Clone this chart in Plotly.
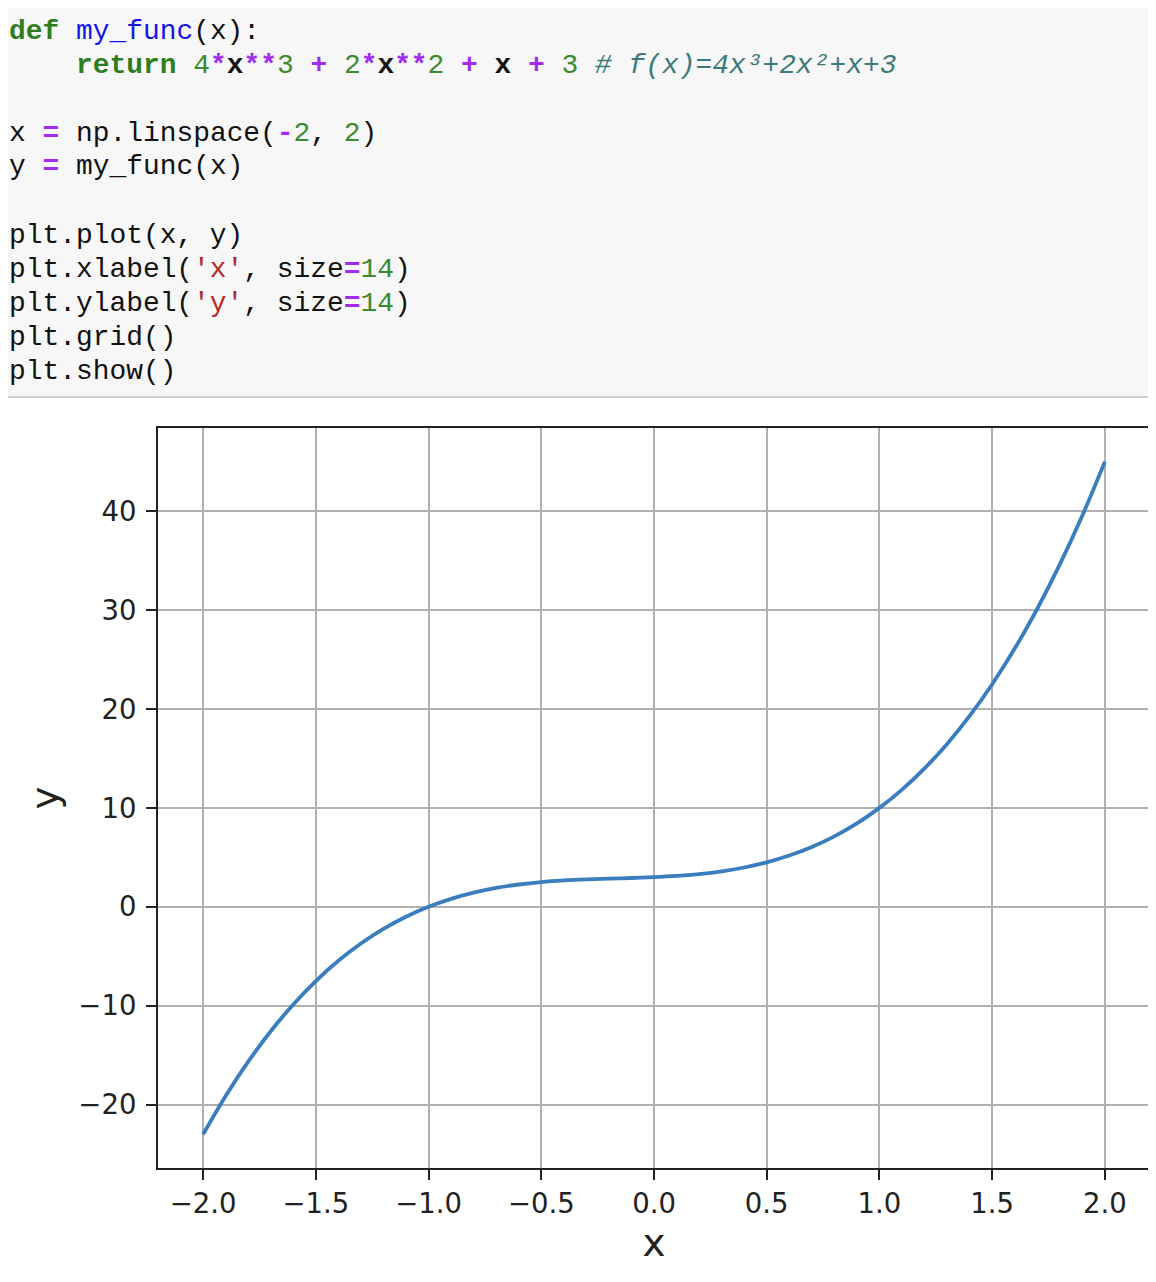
import plotly.graph_objects as go

# ---------------- data ----------------
x_vals = [-2.0, -1.9, -1.8, -1.7, -1.6, -1.5, -1.4, -1.3, -1.2, -1.1, -1.0,
          -0.9, -0.8, -0.7, -0.6, -0.5, -0.4, -0.3, -0.2, -0.1, 0.0,
          0.1, 0.2, 0.3, 0.4, 0.5, 0.6, 0.7, 0.8, 0.9, 1.0,
          1.1, 1.2, 1.3, 1.4, 1.5, 1.6, 1.7, 1.8, 1.9, 2.0]
y_vals = [-23.0, -19.116, -15.648, -12.572, -9.864, -7.5, -5.456, -3.708, -2.232, -1.004, 0.0,
          0.804, 1.432, 1.908, 2.256, 2.5, 2.664, 2.772, 2.848, 2.916, 3.0,
          3.124, 3.312, 3.588, 3.976, 4.5, 5.184, 6.052, 7.128, 8.436, 10.0,
          11.844, 13.992, 16.468, 19.296, 22.5, 26.104, 30.132, 34.608, 39.556, 45.0]

x_tickvals = [-2.0, -1.5, -1.0, -0.5, 0.0, 0.5, 1.0, 1.5, 2.0]
x_ticktext = ["\u22122.0", "\u22121.5", "\u22121.0", "\u22120.5", "0.0", "0.5", "1.0", "1.5", "2.0"]
y_tickvals = [-20, -10, 0, 10, 20, 30, 40]
y_ticktext = ["\u221220", "\u221210", "0", "10", "20", "30", "40"]

# code cell lines: list of (text, style) segments
code_lines = [
    [("def", "kw"), (" ", ""), ("my_func", "fn"), ("(x):", "")],
    [("    ", ""), ("return", "kw"), (" ", ""), ("4", "num"), ("*", "op"), ("x", "b"), ("**", "op"),
     ("3", "num"), (" ", ""), ("+", "op"), (" ", ""), ("2", "num"), ("*", "op"), ("x", "b"),
     ("**", "op"), ("2", "num"), (" ", ""), ("+", "op"), (" ", ""), ("x", "b"), (" ", ""),
     ("+", "op"), (" ", ""), ("3", "num"), (" ", ""), ("# f(x)=4x\u00b3+2x\u00b2+x+3", "cm")],
    [],
    [("x", ""), (" ", ""), ("=", "op"), (" ", ""), ("np.linspace(", ""), ("-", "op"), ("2", "num"),
     (", ", ""), ("2", "num"), (")", "")],
    [("y", ""), (" ", ""), ("=", "op"), (" ", ""), ("my_func(x)", "")],
    [],
    [("plt.plot(x, y)", "")],
    [("plt.xlabel(", ""), ("'x'", "str"), (", size", ""), ("=", "op"), ("14", "num"), (")", "")],
    [("plt.ylabel(", ""), ("'y'", "str"), (", size", ""), ("=", "op"), ("14", "num"), (")", "")],
    [("plt.grid()", "")],
    [("plt.show()", "")],
]

# ---------------- layout geometry (page pixels) ----------------
OFF = 8  # page body margin in which the figure div sits
PAGE_W, PAGE_H = 1156, 1282
W_FIG, H_FIG = PAGE_W - OFF, PAGE_H - OFF
L, R, T, B = 158, 1150, 428, 1168  # plot area in page pixels
PW, PH = R - L, B - T


def px(xp):
    return (xp - L) / PW


def py(yp):
    return (B - yp) / PH


styles = {
    "kw": ("#2f7d1f", True, False),
    "fn": ("#1515e6", False, False),
    "op": ("#a12cf0", True, False),
    "num": ("#3c8a2e", False, False),
    "str": ("#b52a2a", False, False),
    "cm": ("#3d7b7b", False, True),
    "b": ("#111111", True, False),
    "": ("#111111", False, False),
}


def seg_html(text, style):
    color, bold, ital = styles[style]
    t = text.replace(" ", "\u00a0")
    s = f"<span style='color:{color}'>{t}</span>"
    if bold:
        s = f"<b>{s}</b>"
    if ital:
        s = f"<i>{s}</i>"
    return s


fig = go.Figure()
fig.add_trace(go.Scatter(x=x_vals, y=y_vals, mode="lines",
                         line=dict(color="#3a7ebf", width=3.8, shape="spline"),
                         showlegend=False))

shapes = [
    dict(type="rect", xref="paper", yref="paper", x0=px(OFF), x1=px(PAGE_W + 4), y0=py(OFF), y1=py(397),
         fillcolor="#f7f7f7", line=dict(width=0), layer="below"),
    dict(type="line", xref="paper", yref="paper", x0=px(OFF), x1=px(PAGE_W + 4), y0=py(397), y1=py(397),
         line=dict(color="#cfcfcf", width=2)),
]

annotations = []
baseline0 = 37.5
line_gap = 34.0
for i, segs in enumerate(code_lines):
    if not segs:
        continue
    base = baseline0 + i * line_gap
    text = "".join(seg_html(t, s) for t, s in segs)
    annotations.append(dict(
        x=px(7), y=py(base - 6.5), xref="paper", yref="paper",
        xanchor="left", yanchor="middle", showarrow=False, text=text,
        font=dict(family="Liberation Mono", size=27.9, color="#111111"),
    ))

fig.update_layout(
    width=W_FIG, height=H_FIG,
    margin=dict(l=L - OFF, r=PAGE_W - R, t=T - OFF, b=PAGE_H - B, pad=0),
    paper_bgcolor="white", plot_bgcolor="white",
    template="none",
    shapes=shapes, annotations=annotations,
    font=dict(family="DejaVu Sans", color="#222222"),
)

fig.update_xaxes(
    range=[-2.2, 2.2], tickvals=x_tickvals, ticktext=x_ticktext,
    showgrid=True, gridcolor="#b0b0b0", gridwidth=2.2, zeroline=False,
    showline=True, mirror=True, linecolor="#222222", linewidth=2.2,
    ticks="outside", ticklen=10, tickwidth=2.2, tickcolor="#222222",
    tickfont=dict(family="DejaVu Sans", size=27.5, color="#222222"),
    title=dict(text="x", font=dict(family="DejaVu Sans", size=38.9, color="#222222"), standoff=11),
    automargin=False,
)
fig.update_yaxes(
    range=[-26.4, 48.4], tickvals=y_tickvals, ticktext=y_ticktext,
    showgrid=True, gridcolor="#b0b0b0", gridwidth=2.2, zeroline=False,
    showline=True, mirror=True, linecolor="#222222", linewidth=2.2,
    ticks="outside", ticklen=10, tickwidth=2.2, tickcolor="#222222", ticklabelstandoff=4,
    tickfont=dict(family="DejaVu Sans", size=27.5, color="#222222"),
    title=dict(text="y", font=dict(family="DejaVu Sans", size=38.9, color="#222222"), standoff=8),
    automargin=False,
)

fig.write_html("out.html")
